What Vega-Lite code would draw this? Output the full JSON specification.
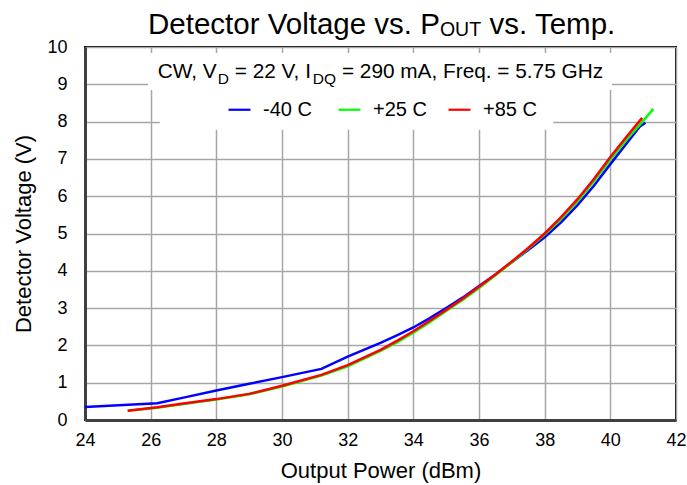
{
  "$schema": "https://vega.github.io/schema/vega-lite/v6.json",
  "width": 591,
  "height": 373,
  "autosize": {"type": "none"},
  "padding": {"left": 85, "top": 47, "right": 11, "bottom": 65},
  "background": "white",
  "data": {"values": [{}]},
  "config": {
    "font": "Liberation Sans",
    "view": {"stroke": "#000000", "strokeWidth": 2},
    "axis": {
      "labelFont": "Liberation Sans",
      "titleFont": "Liberation Sans",
      "labelColor": "#000000",
      "titleColor": "#000000",
      "labelFontSize": 18,
      "titleFontSize": 22,
      "titleFontWeight": "normal",
      "ticks": false,
      "grid": true,
      "labelOverlap": false,
      "domainColor": "#404040",
      "domainWidth": 3,
      "gridColor": "#a6a6a6",
      "gridWidth": 1.5,
      "gridOpacity": 1
    }
  },
  "datasets": {
    "curves": [
      {"series": "-40 C", "pout": 24, "v": 0.35},
      {"series": "-40 C", "pout": 26.2, "v": 0.45},
      {"series": "-40 C", "pout": 27, "v": 0.60},
      {"series": "-40 C", "pout": 28, "v": 0.79},
      {"series": "-40 C", "pout": 29, "v": 0.97},
      {"series": "-40 C", "pout": 30, "v": 1.15},
      {"series": "-40 C", "pout": 31.2, "v": 1.37},
      {"series": "-40 C", "pout": 32, "v": 1.70},
      {"series": "-40 C", "pout": 33, "v": 2.07},
      {"series": "-40 C", "pout": 33.5, "v": 2.27},
      {"series": "-40 C", "pout": 34, "v": 2.48},
      {"series": "-40 C", "pout": 34.5, "v": 2.73},
      {"series": "-40 C", "pout": 35, "v": 3.00},
      {"series": "-40 C", "pout": 35.5, "v": 3.28},
      {"series": "-40 C", "pout": 36, "v": 3.59},
      {"series": "-40 C", "pout": 36.5, "v": 3.90},
      {"series": "-40 C", "pout": 37, "v": 4.23},
      {"series": "-40 C", "pout": 37.5, "v": 4.56},
      {"series": "-40 C", "pout": 38, "v": 4.90},
      {"series": "-40 C", "pout": 38.5, "v": 5.30},
      {"series": "-40 C", "pout": 39, "v": 5.76},
      {"series": "-40 C", "pout": 39.5, "v": 6.28},
      {"series": "-40 C", "pout": 40, "v": 6.86},
      {"series": "-40 C", "pout": 40.5, "v": 7.42},
      {"series": "-40 C", "pout": 40.9, "v": 7.87},
      {"series": "-40 C", "pout": 41.07, "v": 7.97},
      {"series": "+25 C", "pout": 25.3, "v": 0.25},
      {"series": "+25 C", "pout": 26.2, "v": 0.33},
      {"series": "+25 C", "pout": 27, "v": 0.43},
      {"series": "+25 C", "pout": 28, "v": 0.55},
      {"series": "+25 C", "pout": 29, "v": 0.69},
      {"series": "+25 C", "pout": 30, "v": 0.90},
      {"series": "+25 C", "pout": 31.2, "v": 1.19},
      {"series": "+25 C", "pout": 32, "v": 1.44},
      {"series": "+25 C", "pout": 33, "v": 1.85},
      {"series": "+25 C", "pout": 33.5, "v": 2.08},
      {"series": "+25 C", "pout": 34, "v": 2.34},
      {"series": "+25 C", "pout": 34.5, "v": 2.62},
      {"series": "+25 C", "pout": 35, "v": 2.92},
      {"series": "+25 C", "pout": 35.5, "v": 3.22},
      {"series": "+25 C", "pout": 36, "v": 3.54},
      {"series": "+25 C", "pout": 36.5, "v": 3.88},
      {"series": "+25 C", "pout": 37, "v": 4.23},
      {"series": "+25 C", "pout": 37.5, "v": 4.59},
      {"series": "+25 C", "pout": 38, "v": 4.97},
      {"series": "+25 C", "pout": 38.5, "v": 5.39},
      {"series": "+25 C", "pout": 39, "v": 5.86},
      {"series": "+25 C", "pout": 39.5, "v": 6.40},
      {"series": "+25 C", "pout": 40, "v": 6.98},
      {"series": "+25 C", "pout": 40.5, "v": 7.52},
      {"series": "+25 C", "pout": 41, "v": 8.02},
      {"series": "+25 C", "pout": 41.31, "v": 8.34},
      {"series": "+85 C", "pout": 25.3, "v": 0.25},
      {"series": "+85 C", "pout": 26.2, "v": 0.34},
      {"series": "+85 C", "pout": 27, "v": 0.44},
      {"series": "+85 C", "pout": 28, "v": 0.56},
      {"series": "+85 C", "pout": 29, "v": 0.70},
      {"series": "+85 C", "pout": 30, "v": 0.92},
      {"series": "+85 C", "pout": 31.2, "v": 1.21},
      {"series": "+85 C", "pout": 32, "v": 1.47},
      {"series": "+85 C", "pout": 33, "v": 1.88},
      {"series": "+85 C", "pout": 33.5, "v": 2.12},
      {"series": "+85 C", "pout": 34, "v": 2.38},
      {"series": "+85 C", "pout": 34.5, "v": 2.66},
      {"series": "+85 C", "pout": 35, "v": 2.95},
      {"series": "+85 C", "pout": 35.5, "v": 3.25},
      {"series": "+85 C", "pout": 36, "v": 3.57},
      {"series": "+85 C", "pout": 36.5, "v": 3.90},
      {"series": "+85 C", "pout": 37, "v": 4.25},
      {"series": "+85 C", "pout": 37.5, "v": 4.61},
      {"series": "+85 C", "pout": 38, "v": 5.00},
      {"series": "+85 C", "pout": 38.5, "v": 5.44},
      {"series": "+85 C", "pout": 39, "v": 5.92},
      {"series": "+85 C", "pout": 39.5, "v": 6.46},
      {"series": "+85 C", "pout": 40, "v": 7.05},
      {"series": "+85 C", "pout": 40.5, "v": 7.60},
      {"series": "+85 C", "pout": 40.97, "v": 8.10}
    ]
  },
  "layer": [
    {
      "data": {"name": "curves"},
      "transform": [
        {"calculate": "indexof(['-40 C','+25 C','+85 C'], datum.series)", "as": "ord"}
      ],
      "mark": {"type": "line", "strokeWidth": 2.5, "interpolate": "linear", "clip": true},
      "encoding": {
        "x": {
          "field": "pout", "type": "quantitative",
          "scale": {"domain": [24, 42], "nice": false},
          "axis": {"values": [24, 26, 28, 30, 32, 34, 36, 38, 40, 42], "title": "Output Power (dBm)", "labelPadding": 11, "titlePadding": 11, "labelFlush": false, "grid": true, "labelFontSize": 18}
        },
        "y": {
          "field": "v", "type": "quantitative",
          "scale": {"domain": [0, 10], "nice": false},
          "axis": {"values": [0, 1, 2, 3, 4, 5, 6, 7, 8, 9, 10], "title": "Detector Voltage (V)", "labelPadding": 18, "titlePadding": 11, "grid": true, "labelFontSize": 18}
        },
        "color": {
          "field": "series", "type": "nominal",
          "scale": {"domain": ["-40 C", "+25 C", "+85 C"], "range": ["#0000ff", "#00ff00", "#ff0000"]},
          "legend": {
            "orient": "none",
            "legendX": 142,
            "legendY": 50,
            "direction": "horizontal",
            "columns": 3,
            "gridAlign": "all",
            "columnPadding": 17,
            "title": null,
            "symbolType": "stroke",
            "symbolSize": 484,
            "symbolStrokeWidth": 2.2,
            "labelFontSize": 20,
            "labelFont": "Liberation Sans",
            "labelColor": "#000000",
            "labelOffset": 11,
            "padding": 0
          }
        },
        "order": {"field": "ord"}
      }
    },
    {
      "mark": {"type": "rect", "fill": "white"},
      "encoding": {
        "x": {"datum": 25.92, "type": "quantitative", "axis": {"values": [24, 26, 28, 30, 32, 34, 36, 38, 40, 42], "title": "Output Power (dBm)", "labelPadding": 11, "titlePadding": 11, "labelFlush": false, "grid": true, "labelFontSize": 18}},
        "x2": {"datum": 40.05},
        "y": {"datum": 9.84, "type": "quantitative", "axis": {"values": [0, 1, 2, 3, 4, 5, 6, 7, 8, 9, 10], "title": "Detector Voltage (V)", "labelPadding": 18, "titlePadding": 11, "grid": true, "labelFontSize": 18}},
        "y2": {"datum": 8.85}
      }
    },
    {
      "mark": {"type": "rect", "fill": "white"},
      "encoding": {
        "x": {"datum": 26.28, "type": "quantitative", "axis": {"values": [24, 26, 28, 30, 32, 34, 36, 38, 40, 42], "title": "Output Power (dBm)", "labelPadding": 11, "titlePadding": 11, "labelFlush": false, "grid": true, "labelFontSize": 18}},
        "x2": {"datum": 38.26},
        "y": {"datum": 8.85, "type": "quantitative", "axis": {"values": [0, 1, 2, 3, 4, 5, 6, 7, 8, 9, 10], "title": "Detector Voltage (V)", "labelPadding": 18, "titlePadding": 11, "grid": true, "labelFontSize": 18}},
        "y2": {"datum": 7.78}
      }
    },
    {
      "mark": {"type": "text", "align": "right", "baseline": "alphabetic", "fontSize": 29.5, "font": "Liberation Sans", "color": "#000000", "text": "Detector Voltage vs. P"},
      "encoding": {
        "x": {"datum": 34.81, "type": "quantitative", "axis": {"values": [24, 26, 28, 30, 32, 34, 36, 38, 40, 42], "title": "Output Power (dBm)", "labelPadding": 11, "titlePadding": 11, "labelFlush": false, "grid": true, "labelFontSize": 18}},
        "y": {"datum": 10.34, "type": "quantitative", "axis": {"values": [0, 1, 2, 3, 4, 5, 6, 7, 8, 9, 10], "title": "Detector Voltage (V)", "labelPadding": 18, "titlePadding": 11, "grid": true, "labelFontSize": 18}}
      }
    },
    {
      "mark": {"type": "text", "align": "left", "baseline": "alphabetic", "fontSize": 19.5, "font": "Liberation Sans", "color": "#000000", "text": "OUT"},
      "encoding": {
        "x": {"datum": 34.81, "type": "quantitative", "axis": {"values": [24, 26, 28, 30, 32, 34, 36, 38, 40, 42], "title": "Output Power (dBm)", "labelPadding": 11, "titlePadding": 11, "labelFlush": false, "grid": true, "labelFontSize": 18}},
        "y": {"datum": 10.30, "type": "quantitative", "axis": {"values": [0, 1, 2, 3, 4, 5, 6, 7, 8, 9, 10], "title": "Detector Voltage (V)", "labelPadding": 18, "titlePadding": 11, "grid": true, "labelFontSize": 18}}
      }
    },
    {
      "mark": {"type": "text", "align": "right", "baseline": "alphabetic", "fontSize": 29.5, "font": "Liberation Sans", "color": "#000000", "text": "vs. Temp."},
      "encoding": {
        "x": {"datum": 40.15, "type": "quantitative", "axis": {"values": [24, 26, 28, 30, 32, 34, 36, 38, 40, 42], "title": "Output Power (dBm)", "labelPadding": 11, "titlePadding": 11, "labelFlush": false, "grid": true, "labelFontSize": 18}},
        "y": {"datum": 10.34, "type": "quantitative", "axis": {"values": [0, 1, 2, 3, 4, 5, 6, 7, 8, 9, 10], "title": "Detector Voltage (V)", "labelPadding": 18, "titlePadding": 11, "grid": true, "labelFontSize": 18}}
      }
    },
    {
      "mark": {"type": "text", "align": "left", "baseline": "alphabetic", "fontSize": 20.8, "font": "Liberation Sans", "color": "#000000", "text": "CW, V"},
      "encoding": {
        "x": {"datum": 26.214, "type": "quantitative", "axis": {"values": [24, 26, 28, 30, 32, 34, 36, 38, 40, 42], "title": "Output Power (dBm)", "labelPadding": 11, "titlePadding": 11, "labelFlush": false, "grid": true, "labelFontSize": 18}},
        "y": {"datum": 9.16, "type": "quantitative", "axis": {"values": [0, 1, 2, 3, 4, 5, 6, 7, 8, 9, 10], "title": "Detector Voltage (V)", "labelPadding": 18, "titlePadding": 11, "grid": true, "labelFontSize": 18}}
      }
    },
    {
      "mark": {"type": "text", "align": "left", "baseline": "alphabetic", "fontSize": 15.5, "font": "Liberation Sans", "color": "#000000", "text": "D"},
      "encoding": {
        "x": {"datum": 28.045, "type": "quantitative", "axis": {"values": [24, 26, 28, 30, 32, 34, 36, 38, 40, 42], "title": "Output Power (dBm)", "labelPadding": 11, "titlePadding": 11, "labelFlush": false, "grid": true, "labelFontSize": 18}},
        "y": {"datum": 9.0, "type": "quantitative", "axis": {"values": [0, 1, 2, 3, 4, 5, 6, 7, 8, 9, 10], "title": "Detector Voltage (V)", "labelPadding": 18, "titlePadding": 11, "grid": true, "labelFontSize": 18}}
      }
    },
    {
      "mark": {"type": "text", "align": "left", "baseline": "alphabetic", "fontSize": 20.8, "font": "Liberation Sans", "color": "#000000", "text": "= 22 V, I"},
      "encoding": {
        "x": {"datum": 28.562, "type": "quantitative", "axis": {"values": [24, 26, 28, 30, 32, 34, 36, 38, 40, 42], "title": "Output Power (dBm)", "labelPadding": 11, "titlePadding": 11, "labelFlush": false, "grid": true, "labelFontSize": 18}},
        "y": {"datum": 9.16, "type": "quantitative", "axis": {"values": [0, 1, 2, 3, 4, 5, 6, 7, 8, 9, 10], "title": "Detector Voltage (V)", "labelPadding": 18, "titlePadding": 11, "grid": true, "labelFontSize": 18}}
      }
    },
    {
      "mark": {"type": "text", "align": "left", "baseline": "alphabetic", "fontSize": 15.5, "font": "Liberation Sans", "color": "#000000", "text": "DQ"},
      "encoding": {
        "x": {"datum": 30.938, "type": "quantitative", "axis": {"values": [24, 26, 28, 30, 32, 34, 36, 38, 40, 42], "title": "Output Power (dBm)", "labelPadding": 11, "titlePadding": 11, "labelFlush": false, "grid": true, "labelFontSize": 18}},
        "y": {"datum": 9.0, "type": "quantitative", "axis": {"values": [0, 1, 2, 3, 4, 5, 6, 7, 8, 9, 10], "title": "Detector Voltage (V)", "labelPadding": 18, "titlePadding": 11, "grid": true, "labelFontSize": 18}}
      }
    },
    {
      "mark": {"type": "text", "align": "left", "baseline": "alphabetic", "fontSize": 20.8, "font": "Liberation Sans", "color": "#000000", "text": "= 290 mA, Freq. = 5.75 GHz"},
      "encoding": {
        "x": {"datum": 31.824, "type": "quantitative", "axis": {"values": [24, 26, 28, 30, 32, 34, 36, 38, 40, 42], "title": "Output Power (dBm)", "labelPadding": 11, "titlePadding": 11, "labelFlush": false, "grid": true, "labelFontSize": 18}},
        "y": {"datum": 9.16, "type": "quantitative", "axis": {"values": [0, 1, 2, 3, 4, 5, 6, 7, 8, 9, 10], "title": "Detector Voltage (V)", "labelPadding": 18, "titlePadding": 11, "grid": true, "labelFontSize": 18}}
      }
    }
  ]
}
